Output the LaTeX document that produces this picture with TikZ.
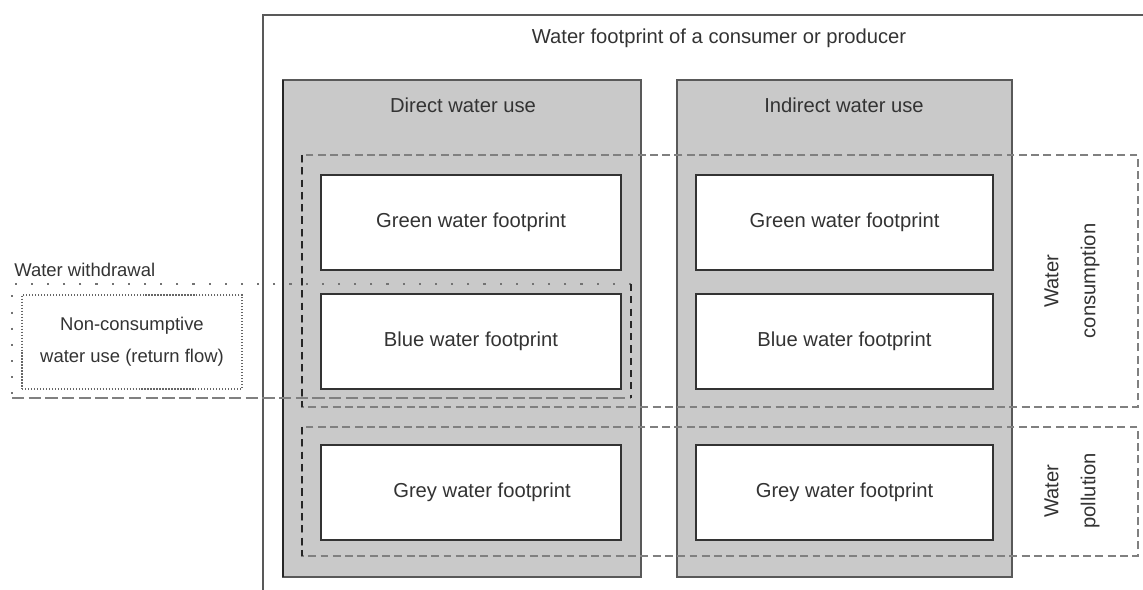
\documentclass[tikz,border=0pt]{standalone}
\usepackage{fontspec}
\setmainfont{Liberation Sans}
\begin{document}
\begin{tikzpicture}[
        x=0.02cm, y=-0.02cm,
        every node/.style={font=\fontsize{11.5}{14}\selectfont, text=black!80, inner sep=0pt},
        column/.style={draw=black!65, fill=black!21, line width=0.8pt},
        fpbox/.style={draw=black!80, fill=white, line width=1.2pt, minimum height=1.9cm},
        zone/.style={draw=black!50, line width=0.9pt, dash pattern=on 4.5pt off 2.5pt},
        zoneedge/.style={draw=black!85, line width=1.3pt, dash pattern=on 4pt off 3pt},
        sidelabel/.style={rotate=90, align=center, font=\fontsize{11.5}{21}\selectfont},
        smalltext/.style={font=\fontsize{10.5}{18}\selectfont}
    ]

    \useasboundingbox (0,0) rectangle (1143,590);

    % Frame of the consumer or producer
    \draw[black!65, line width=0.8pt] (1143,15) -- (263,15) -- (263,590);
    \node (title) at (719,38) {Water footprint of a consumer or producer};

    % Direct and indirect columns
    \draw[column] (283,80) rectangle (641,577);
    \draw[black!85, line width=1.6pt] (283,80) -- (283,577);
    \draw[column] (677,80) rectangle (1012,577);
    \node (direct) at (463,105) {Direct water use};
    \node (indirect) at (844,105) {Indirect water use};

    % Consumption and pollution zones
    \draw[zone] (302,155) rectangle (1138,407);
    \draw[zone] (302,427) rectangle (1138,556);
    \draw[zoneedge] (302,155) -- (302,407);
    \draw[zoneedge] (302,427) -- (302,556);
    \node[sidelabel] (consumption) at (1072,281) {Water\\consumption};
    \node[sidelabel] (pollution) at (1072,491) {Water\\pollution};

    % Water withdrawal
    \node[smalltext, anchor=west] (withdrawal) at (14,270) {Water withdrawal};
    \draw[black!55, line width=1pt, dash pattern=on 1.2pt off 8pt] (631,284) -- (12,284) -- (12,398);
    \draw[black!50, line width=1.2pt, dash pattern=on 7pt off 2.5pt] (12,398) -- (631,398);
    \draw[zoneedge, line width=1pt] (631,284) -- (631,398);
    \node[smalltext, draw=black!60, densely dotted, line width=0.7pt, align=center,
        minimum width=4.4cm, minimum height=1.88cm] (return) at (132,342)
        {Non-consumptive\\water use (return flow)};

    % Footprint boxes
    \node[fpbox, minimum width=6cm] (dgreen) at (471,222.5) {Green water footprint};
    \node[fpbox, minimum width=6cm] (dblue) at (471,341.5) {Blue water footprint};
    \node[fpbox, minimum width=6cm] (dgrey) at (471,492.5) {};
    \node (dgreytext) at (482,492.5) {Grey water footprint};
    \node[fpbox, minimum width=5.94cm] (igreen) at (844.5,222.5) {Green water footprint};
    \node[fpbox, minimum width=5.94cm] (iblue) at (844.5,341.5) {Blue water footprint};
    \node[fpbox, minimum width=5.94cm] (igrey) at (844.5,492.5) {Grey water footprint};
\end{tikzpicture}
\end{document}
